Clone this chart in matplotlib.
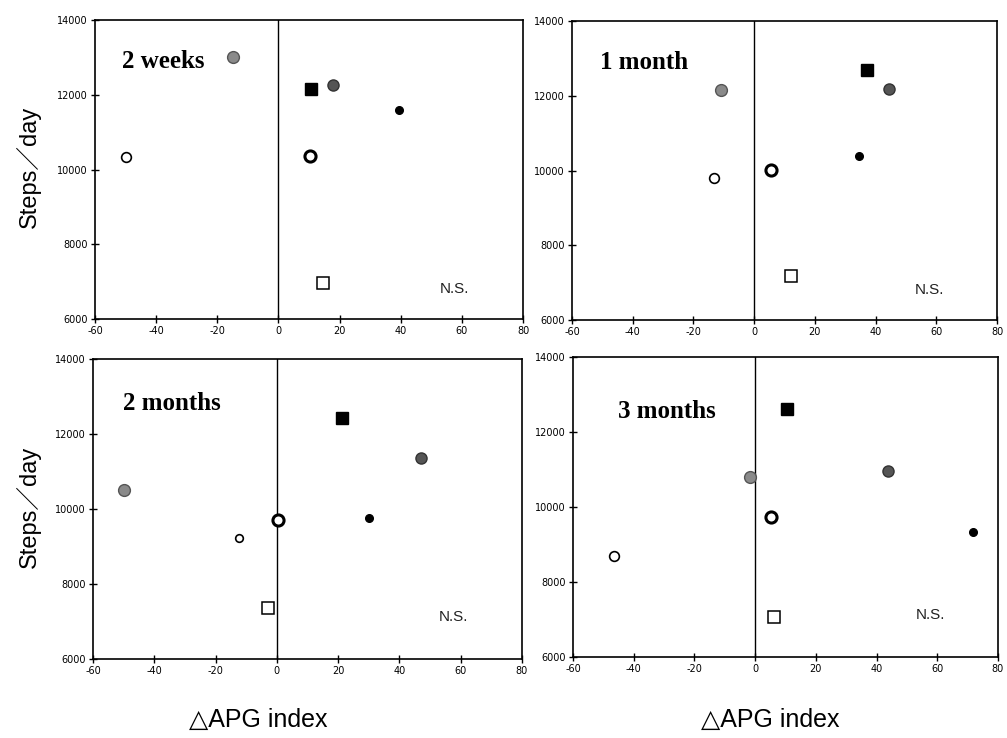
import matplotlib.pyplot as plt

plt.rcParams["axes.unicode_minus"] = False

periods = ["2 weeks", "1 month", "2 months", "3 months"]

# one entry per period: 2 weeks, 1 month, 2 months, 3 months
gray_x = [-14.8, -10.9, -49.8, -1.6]
gray_y = [13000, 12150, 10510, 10810]
open_x = [-49.7, -13.2, -12.5, -46.6]
open_y = [10340, 9800, 9220, 8690]
bsq_x = [10.5, 37.2, 21.3, 10.5]
bsq_y = [12150, 12690, 12440, 12610]
dark_x = [17.8, 44.5, 47.2, 43.6]
dark_y = [12250, 12180, 11370, 10970]
dot_x = [39.5, 34.6, 30.2, 71.8]
dot_y = [11580, 10390, 9760, 9330]
bold_x = [10.2, 5.6, 0.3, 5.2]
bold_y = [10350, 10010, 9700, 9740]
osq_x = [14.5, 12.2, -3.0, 6.2]
osq_y = [6970, 7180, 7370, 7080]

x_ticks = [-60, -40, -20, 0, 20, 40, 60, 80]
y_ticks = [6000, 8000, 10000, 12000, 14000]

fig = plt.figure(figsize=(10.07, 7.38), dpi=100)
W, H = 1007, 738
boxes = [(95, 20, 523, 319), (572, 21, 997, 320), (93, 359, 522, 659), (573, 357, 998, 657)]
title_pos = [(0.063, 0.86), (0.066, 0.86), (0.07, 0.853), (0.106, 0.817)]

for i, (x0, y0, x1, y1) in enumerate(boxes):
    ax = fig.add_axes([x0 / W, 1 - y1 / H, (x1 - x0) / W, (y1 - y0) / H])
    ax.axvline(0, color="black", lw=1)
    ax.plot(gray_x[i], gray_y[i], "o", ms=8.5, mfc="#8a8a8a", mec="#555555", mew=1)
    ax.plot(open_x[i], open_y[i], "o", ms=7 if i != 2 else 5.5, mfc="white", mec="black", mew=1.2)
    ax.plot(bsq_x[i], bsq_y[i], "s", ms=8.5, mfc="black", mec="black")
    ax.plot(dark_x[i], dark_y[i], "o", ms=8, mfc="#555555", mec="#333333", mew=1)
    ax.plot(dot_x[i], dot_y[i], "o", ms=5.5, mfc="black", mec="black")
    ax.plot(bold_x[i], bold_y[i], "o", ms=8, mfc="white", mec="black", mew=2.2)
    ax.plot(osq_x[i], osq_y[i], "s", ms=8, mfc="white", mec="black", mew=1.1)
    ax.set_xlim(-60, 80)
    ax.set_ylim(6000, 14000)
    ax.set_xticks(x_ticks)
    ax.set_yticks(y_ticks)
    ax.tick_params(direction="inout", length=6, width=1, labelsize=7, pad=2)
    for s in ax.spines.values():
        s.set_linewidth(1.2)
    ax.text(title_pos[i][0], title_pos[i][1], periods[i], transform=ax.transAxes,
            fontsize=18, fontweight="bold", family="Liberation Serif", va="center")
    ax.text(0.84, 0.1 if i < 2 else 0.14, "N.S.", transform=ax.transAxes,
            fontsize=11, family="Liberation Sans", va="center", ha="center", color="#222222")

fig.text(28 / W, 1 - 167 / H, "Steps／day", rotation=90, fontsize=17,
         family=["Liberation Sans", "Noto Sans CJK JP"], ha="center", va="center")
fig.text(28 / W, 1 - 507 / H, "Steps／day", rotation=90, fontsize=17,
         family=["Liberation Sans", "Noto Sans CJK JP"], ha="center", va="center")
fig.text(258 / W, 1 - 720 / H, "△APG index", fontsize=18,
         family=["Liberation Sans", "DejaVu Sans"], ha="center", va="center")
fig.text(770 / W, 1 - 720 / H, "△APG index", fontsize=18,
         family=["Liberation Sans", "DejaVu Sans"], ha="center", va="center")

plt.savefig("out.png", dpi=100)
